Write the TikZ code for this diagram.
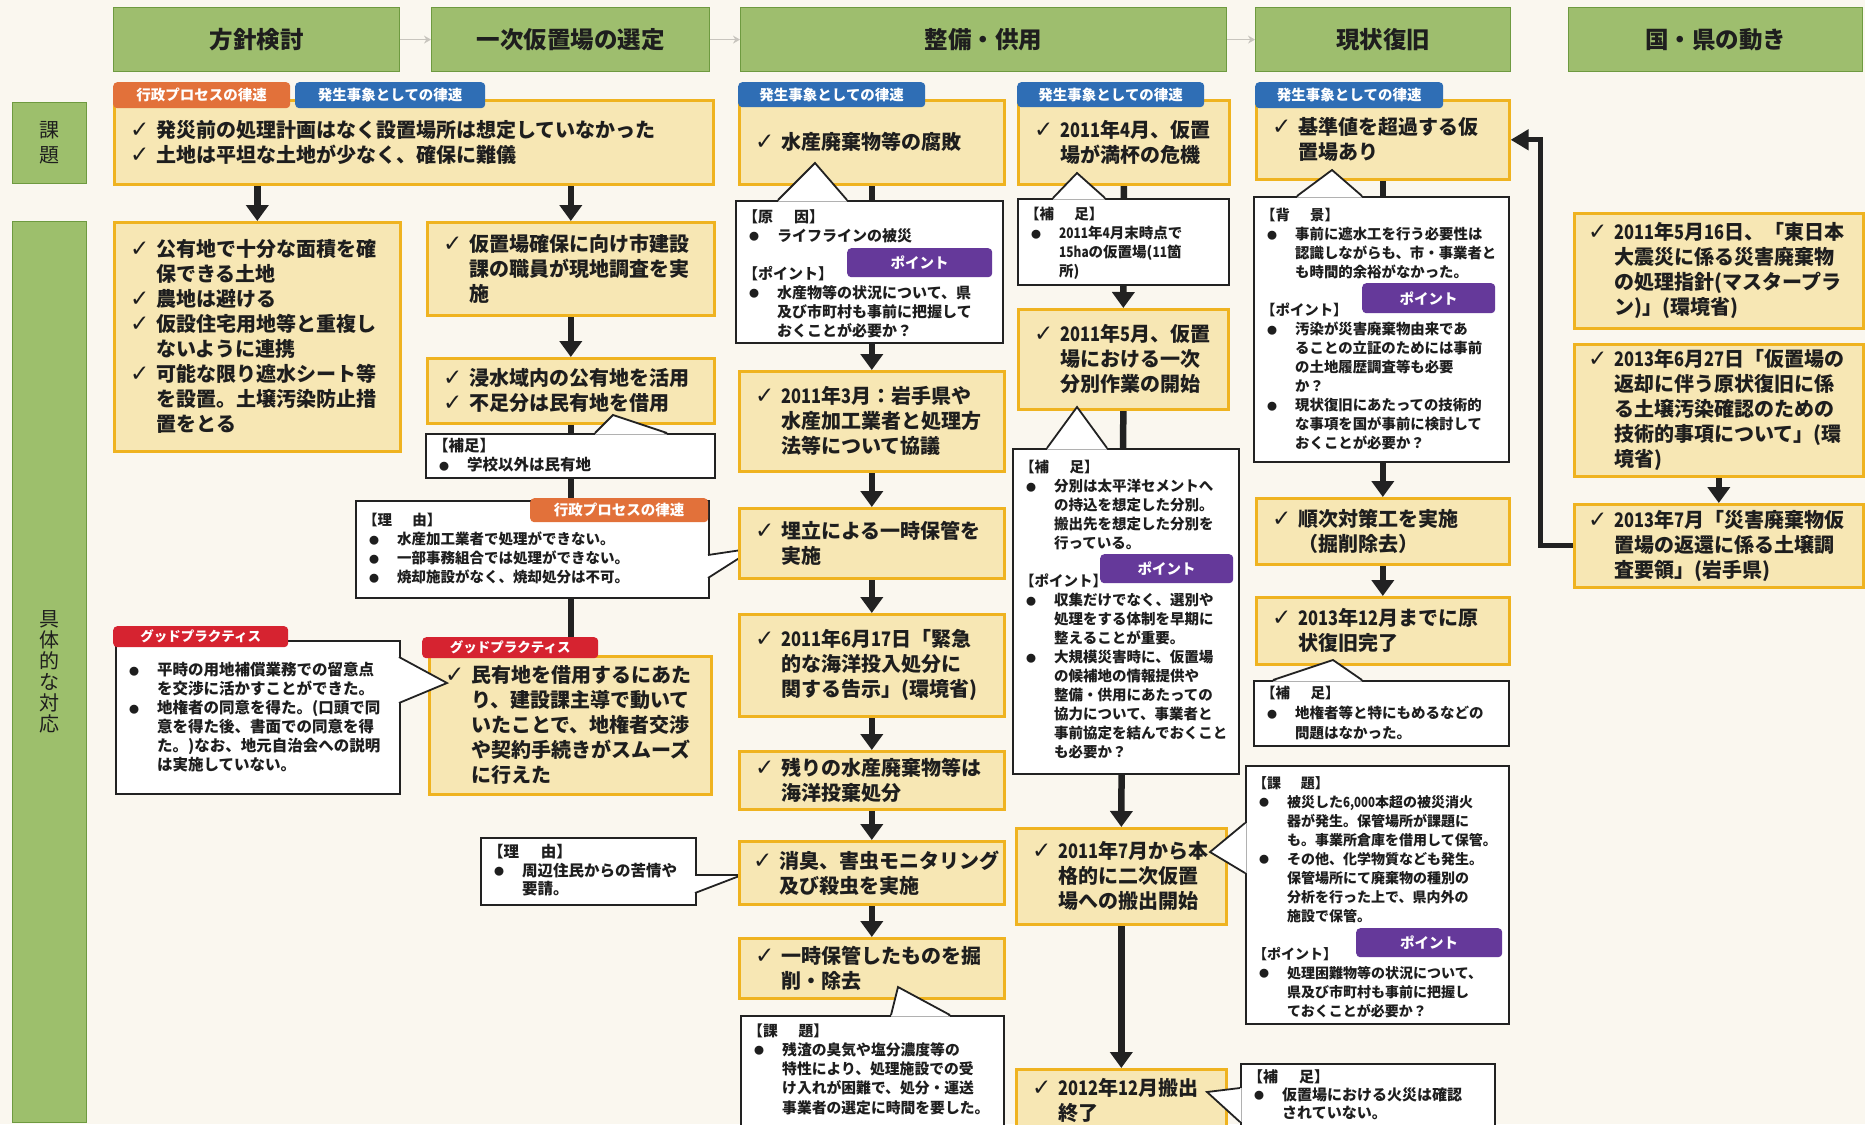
\documentclass[tikz,border=0pt]{standalone}
\usepackage{fontspec}
\setmainfont{Noto Sans CJK JP}
\newfontfamily\symf{DejaVu Sans}
\usetikzlibrary{arrows.meta}
\definecolor{bgc}{HTML}{FAF7EF}
\definecolor{hg}{HTML}{9EBE6E}
\definecolor{hgb}{HTML}{6E9A40}
\definecolor{lg}{HTML}{9DBF6C}
\definecolor{yf}{HTML}{F7E7B4}
\definecolor{yb}{HTML}{EFB320}
\definecolor{tagO}{HTML}{E2713A}
\definecolor{tagB}{HTML}{2F6EB5}
\definecolor{tagP}{HTML}{65399A}
\definecolor{tagR}{HTML}{D62330}
\definecolor{txt}{HTML}{1E1E1E}
\definecolor{cl}{HTML}{222222}
\definecolor{ak}{HTML}{222222}
\definecolor{gr}{HTML}{C8C5BE}
\newcommand\chk{\makebox[26pt][l]{\symf\bfseries\fontsize{23}{23}\selectfont ✓}}
\newcommand\mind{\hspace*{26pt}}
\newcommand\bul{\makebox[22pt][c]{\raisebox{0.6pt}{\fontsize{10}{10}\selectfont ●}}\hspace{12pt}}
\newcommand\cind{\hspace*{34pt}}
\newcommand\tstr{\rule{0pt}{1em}}
\newcommand\Dg[1]{{\addfontfeature{FakeStretch=0.82}#1}}
\newcommand\gp{\hspace{1.4em}}
\pgfdeclarelayer{bgl}
\pgfdeclarelayer{lines}
\pgfsetlayers{bgl,lines,main}
\begin{document}
\begin{tikzpicture}[x=1pt,y=-1pt,
 hdr/.style={anchor=north west, fill=hg, draw=hgb, line width=1.2pt, font=\fontsize{23.5}{26}\selectfont\bfseries, text=txt},
 lab/.style={anchor=north west, fill=lg, draw=hgb, line width=1pt, align=center, text=txt},
 ybx/.style={anchor=north west, fill=yf, draw=yb, line width=2.6pt, inner sep=0},
 ytx/.style={anchor=west, inner sep=0, align=left, text=txt, font=\fontsize{20}{25}\selectfont\bfseries},
 cbx/.style={anchor=north west, fill=white, draw=cl, line width=1.8pt, inner sep=0},
 ctx/.style={anchor=north west, inner sep=0, align=left, text=txt},
 tg/.style={anchor=north west, rounded corners=4pt, text=white, inner sep=0, font=\fontsize{14.5}{15}\selectfont\bfseries},
 tO/.style={tg, fill=tagO}, tB/.style={tg, fill=tagB}, tP/.style={tg, fill=tagP},
 tR/.style={tg, fill=tagR, font=\fontsize{13.5}{14}\selectfont\bfseries},
 arr/.style={draw=ak, line width=6.5pt, -{Triangle[width=22pt,length=16pt]}},
 ln/.style={draw=ak, line width=6.5pt},
 garr/.style={draw=gr, line width=1.5pt, -{Stealth[width=8pt,length=7pt]}},
 ptr/.style={draw=cl, line width=1.8pt, line join=miter}
]
\useasboundingbox (0,0) rectangle (1865,1124);
\begin{pgfonlayer}{bgl}
\fill[bgc] (0,0) rectangle (1865,1124);
\end{pgfonlayer}

% headers
\node[hdr, minimum width=286pt, minimum height=64pt] (h1) at (113,7) {方針検討};
\node[hdr, minimum width=278pt, minimum height=64pt] (h2) at (431,7) {一次仮置場の選定};
\node[hdr, minimum width=486pt, minimum height=64pt] (h3) at (740,7) {整備・供用};
\node[hdr, minimum width=255pt, minimum height=64pt] (h4) at (1255,7) {現状復旧};
\node[hdr, minimum width=294pt, minimum height=64pt] (h5) at (1568,7) {国・県の動き};
\draw[garr] (h1.east) -- (h2.west);
\draw[garr] (h2.east) -- (h3.west);
\draw[garr] (h3.east) -- (h4.west);

% left labels
\node[lab, minimum width=74pt, minimum height=81pt, font=\fontsize{20}{25}\selectfont] (l1) at (12,102) {課\\題};
\node[lab, minimum width=74pt, minimum height=901pt, font=\fontsize{20}{21}\selectfont] (l2) at (12,221) {具\\体\\的\\な\\対\\応};

% ---------- column 1/2 ----------
\node[ybx, minimum width=599pt, minimum height=84pt] (A1) at (113,99) {};
\node[ytx] at ([xshift=17pt]A1.west) {\chk 発災前の処理計画はなく設置場所は想定していなかった\\ \chk 土地は平坦な土地が少なく、確保に難儀};
\node[tO, minimum width=177pt, minimum height=26pt] (tA1) at (113,82) {行政プロセスの律速};
\node[tB, minimum width=190pt, minimum height=26pt] (tA2) at (295,82) {発生事象としての律速};

\node[ybx, minimum width=286pt, minimum height=229pt] (B1) at (113,221) {};
\node[ytx] at ([xshift=17pt]B1.west) {\chk 公有地で十分な面積を確\\ \mind 保できる土地\\ \chk 農地は避ける\\ \chk 仮設住宅用地等と重複し\\ \mind ないように連携\\ \chk 可能な限り遮水シート等\\ \mind を設置。土壌汚染防止措\\ \mind 置をとる};

\node[ybx, minimum width=287pt, minimum height=93pt] (B2) at (426,221) {};
\node[ytx] at ([xshift=17pt]B2.west) {\chk 仮置場確保に向け市建設\\ \mind 課の職員が現地調査を実\\ \mind 施};

\node[ybx, minimum width=287pt, minimum height=65pt] (B3) at (426,357) {};
\node[ytx] at ([xshift=17pt]B3.west) {\chk 浸水域内の公有地を活用\\ \chk 不足分は民有地を借用};

% 補足 (col2)
\node[cbx, minimum width=289pt, minimum height=44pt] (kS1) at (425,433) {};
\fill[white] (595,434.5) -- (613,415) -- (667,434.5) -- cycle;
\draw[ptr] (595,433) -- (613,415) -- (667,433);
\node[ctx, font=\fontsize{15.5}{19}\selectfont\bfseries] at ([shift={(8pt,-3pt)}]kS1.north west) {\tstr【補足】\\ \bul 学校以外は民有地};

% 理由 (col2)
\node[cbx, minimum width=353pt, minimum height=97pt] (kR1) at (355,500) {};
\fill[white] (706.5,555) -- (755,548) -- (706.5,578) -- cycle;
\draw[ptr] (708,555) -- (755,548) -- (708,578);
\node[tO, minimum width=178pt, minimum height=24pt] (tR1) at (530,498) {行政プロセスの律速};
\node[ctx, font=\fontsize{14.5}{19}\selectfont\bfseries] at ([shift={(8pt,-11pt)}]kR1.north west) {\tstr【理\gp 由】\\ \bul 水産加工業者で処理ができない。\\ \bul 一部事務組合では処理ができない。\\ \bul 焼却施設がなく、焼却処分は不可。};

% good practice (col2)
\node[ybx, minimum width=282pt, minimum height=138pt] (B4) at (428,655) {};
\node[ytx] at ([xshift=17pt]B4.west) {\chk 民有地を借用するにあた\\ \mind り、建設課主導で動いて\\ \mind いたことで、地権者交渉\\ \mind や契約手続きがスムーズ\\ \mind に行えた};
\node[tR, minimum width=176pt, minimum height=21pt] (tB4) at (422,637) {グッドプラクティス};

% good practice callout (col1)
\node[cbx, minimum width=284pt, minimum height=153pt] (kGP) at (115,640) {};
\fill[white] (397.5,657) -- (447,683) -- (397.5,703) -- cycle;
\draw[ptr] (399,657) -- (447,683) -- (399,703);
\node[tR, minimum width=175pt, minimum height=21pt] (tGP) at (113,626) {グッドプラクティス};
\node[ctx, font=\fontsize{15.5}{19}\selectfont\bfseries] at ([shift={(8pt,-20pt)}]kGP.north west) {\tstr\bul 平時の用地補償業務での留意点\\ \cind を交渉に活かすことができた。\\ \bul 地権者の同意を得た。(口頭で同\\ \cind 意を得た後、書面での同意を得\\ \cind た。)なお、地元自治会への説明\\ \cind は実施していない。};

% 理由 (col2 bottom)
\node[cbx, minimum width=215pt, minimum height=67pt] (kR2) at (480,837) {};
\fill[white] (693.5,875) -- (742,875) -- (693.5,893) -- cycle;
\draw[ptr] (695,875) -- (742,875) -- (695,893);
\node[ctx, font=\fontsize{15.5}{18.5}\selectfont\bfseries] at ([shift={(8pt,-5pt)}]kR2.north west) {\tstr【理\gp 由】\\ \bul 周辺住民からの苦情や\\ \cind 要請。};

% ---------- column 3 ----------
\node[ybx, minimum width=265pt, minimum height=84pt] (C1) at (738,99) {};
\node[ytx] at ([xshift=17pt]C1.west) {\chk 水産廃棄物等の腐敗};
\node[tB, minimum width=187pt, minimum height=25pt] (tC1) at (738,82) {発生事象としての律速};

\node[cbx, minimum width=267pt, minimum height=142pt] (kG) at (735,200) {};
\fill[white] (778,201.5) -- (815,163) -- (847,201.5) -- cycle;
\draw[ptr] (778,200) -- (815,163) -- (847,200);
\node[tP, minimum width=145pt, minimum height=29pt] (tG) at (847,248) {ポイント};
\node[ctx, font=\fontsize{15}{19}\selectfont\bfseries] at ([shift={(8pt,-7pt)}]kG.north west) {\tstr【原\gp 因】\\ \bul ライフラインの被災\\[19pt] 【ポイント】\\ \bul 水産物等の状況について、県\\ \cind 及び市町村も事前に把握して\\ \cind おくことが必要か？};

\node[ybx, minimum width=265pt, minimum height=100pt] (C2) at (738,370) {};
\node[ytx] at ([xshift=17pt]C2.west) {\chk \Dg{2011}年\Dg{3}月：岩手県や\\ \mind 水産加工業者と処理方\\ \mind 法等について協議};
\node[ybx, minimum width=265pt, minimum height=70pt] (C3) at (738,507) {};
\node[ytx] at ([xshift=17pt]C3.west) {\chk 埋立による一時保管を\\ \mind 実施};
\node[ybx, minimum width=265pt, minimum height=102pt] (C4) at (738,613) {};
\node[ytx] at ([xshift=17pt]C4.west) {\chk \Dg{2011}年\Dg{6}月\Dg{17}日「緊急\\ \mind 的な海洋投入処分に\\ \mind 関する告示」(環境省)};
\node[ybx, minimum width=265pt, minimum height=58pt] (C5) at (738,750) {};
\node[ytx] at ([xshift=17pt]C5.west) {\chk 残りの水産廃棄物等は\\ \mind 海洋投棄処分};
\node[ybx, minimum width=265pt, minimum height=63pt] (C6) at (738,840) {};
\node[ytx] at ([xshift=15pt]C6.west) {\chk 消臭、害虫モニタリング\\ \mind 及び殺虫を実施};
\node[ybx, minimum width=265pt, minimum height=60pt] (C7) at (738,937) {};
\node[ytx] at ([xshift=17pt]C7.west) {\chk 一時保管したものを掘\\ \mind 削・除去};

\node[cbx, minimum width=263pt, minimum height=110pt] (kKC) at (740,1015) {};
\fill[white] (891,1016.5) -- (898,987) -- (950,1016.5) -- cycle;
\draw[ptr] (891,1015) -- (898,987) -- (950,1015);
\node[ctx, font=\fontsize{14.8}{19.3}\selectfont\bfseries] at ([shift={(8pt,-6pt)}]kKC.north west) {\tstr【課\gp 題】\\ \bul 残渣の臭気や塩分濃度等の\\ \cind 特性により、処理施設での受\\ \cind け入れが困難で、処分・運送\\ \cind 事業者の選定に時間を要した。};

% ---------- column 4 ----------
\node[ybx, minimum width=211pt, minimum height=84pt] (D1) at (1017,99) {};
\node[ytx] at ([xshift=17pt]D1.west) {\chk \Dg{2011}年\Dg{4}月、仮置\\ \mind 場が満杯の危機};
\node[tB, minimum width=187pt, minimum height=25pt] (tD1) at (1017,82) {発生事象としての律速};

\node[cbx, minimum width=211pt, minimum height=86pt] (kD1) at (1017,198) {};
\fill[white] (1053,199.5) -- (1077,173) -- (1105,199.5) -- cycle;
\draw[ptr] (1053,198) -- (1077,173) -- (1105,198);
\node[ctx, font=\fontsize{14.5}{19}\selectfont\bfseries] at ([shift={(8pt,-7pt)}]kD1.north west) {\tstr【補\gp 足】\\ \bul \Dg{2011}年\Dg{4}月末時点で\\ \cind \Dg{15ha}の仮置場(\Dg{11}箇\\ \cind 所)};

\node[ybx, minimum width=210pt, minimum height=100pt] (D2) at (1017,308) {};
\node[ytx] at ([xshift=17pt]D2.west) {\chk \Dg{2011}年\Dg{5}月、仮置\\ \mind 場における一次\\ \mind 分別作業の開始};

\node[cbx, minimum width=226pt, minimum height=325pt] (kD2) at (1012,448) {};
\fill[white] (1047,449.5) -- (1077,407) -- (1107,449.5) -- cycle;
\draw[ptr] (1047,448) -- (1077,407) -- (1107,448);
\node[tP, minimum width=133pt, minimum height=29pt] (tD2) at (1100,554) {ポイント};
\node[ctx, font=\fontsize{14.5}{19}\selectfont\bfseries] at ([shift={(8pt,-10pt)}]kD2.north west) {\tstr【補\gp 足】\\ \bul 分別は太平洋セメントへ\\ \cind の持込を想定した分別。\\ \cind 搬出先を想定した分別を\\ \cind 行っている。\\[19pt] 【ポイント】\\ \bul 収集だけでなく、選別や\\ \cind 処理をする体制を早期に\\ \cind 整えることが重要。\\ \bul 大規模災害時に、仮置場\\ \cind の候補地の情報提供や\\ \cind 整備・供用にあたっての\\ \cind 協力について、事業者と\\ \cind 事前協定を結んでおくこと\\ \cind も必要か？};

\node[ybx, minimum width=210pt, minimum height=96pt] (D3) at (1015,827) {};
\node[ytx] at ([xshift=17pt]D3.west) {\chk \Dg{2011}年\Dg{7}月から本\\ \mind 格的に二次仮置\\ \mind 場への搬出開始};

\node[cbx, minimum width=263pt, minimum height=258pt] (kD3) at (1245,765) {};
\fill[white] (1246.5,823) -- (1210,852) -- (1246.5,873) -- cycle;
\draw[ptr] (1245,823) -- (1210,852) -- (1245,873);
\node[tP, minimum width=146pt, minimum height=29pt] (tD3) at (1356,928) {ポイント};
\node[ctx, font=\fontsize{14}{19}\selectfont\bfseries] at ([shift={(8pt,-9pt)}]kD3.north west) {\tstr【課\gp 題】\\ \bul 被災した\Dg{6,000}本超の被災消火\\ \cind 器が発生。保管場所が課題に\\ \cind も。事業所倉庫を借用して保管。\\ \bul その他、化学物質なども発生。\\ \cind 保管場所にて廃棄物の種別の\\ \cind 分析を行った上で、県内外の\\ \cind 施設で保管。\\[19pt] 【ポイント】\\ \bul 処理困難物等の状況について、\\ \cind 県及び市町村も事前に把握し\\ \cind ておくことが必要か？};

\node[ybx, minimum width=210pt, minimum height=62pt] (D4) at (1015,1068) {};
\node[ytx] at ([xshift=17pt]D4.west) {\chk \Dg{2012}年\Dg{12}月搬出\\ \mind 終了};

\node[cbx, minimum width=254pt, minimum height=75pt] (kD4) at (1240,1063) {};
\fill[white] (1241.5,1088) -- (1207,1092) -- (1241.5,1122) -- cycle;
\draw[ptr] (1240,1088) -- (1207,1092) -- (1240,1122);
\node[ctx, font=\fontsize{15}{18}\selectfont\bfseries] at ([shift={(8pt,-4pt)}]kD4.north west) {\tstr【補\gp 足】\\ \bul 仮置場における火災は確認\\ \cind されていない。};

% ---------- column 5 ----------
\node[ybx, minimum width=253pt, minimum height=79pt] (E1) at (1255,99) {};
\node[ytx] at ([xshift=17pt]E1.west) {\chk 基準値を超過する仮\\ \mind 置場あり};
\node[tB, minimum width=188pt, minimum height=26pt] (tE1) at (1255,82) {発生事象としての律速};

\node[cbx, minimum width=255pt, minimum height=265pt] (kE1) at (1253,196) {};
\fill[white] (1297,197.5) -- (1332,170) -- (1362,197.5) -- cycle;
\draw[ptr] (1297,196) -- (1332,170) -- (1362,196);
\node[tP, minimum width=133pt, minimum height=30pt] (tE1p) at (1362,283) {ポイント};
\node[ctx, font=\fontsize{14.4}{19}\selectfont\bfseries] at ([shift={(8pt,-10pt)}]kE1.north west) {\tstr【背\gp 景】\\ \bul 事前に遮水工を行う必要性は\\ \cind 認識しながらも、市・事業者と\\ \cind も時間的余裕がなかった。\\[19pt] 【ポイント】\\ \bul 汚染が災害廃棄物由来であ\\ \cind ることの立証のためには事前\\ \cind の土地履歴調査等も必要\\ \cind か？\\ \bul 現状復旧にあたっての技術的\\ \cind な事項を国が事前に検討して\\ \cind おくことが必要か？};

\node[ybx, minimum width=253pt, minimum height=66pt] (E2) at (1255,497) {};
\node[ytx] at ([xshift=17pt]E2.west) {\chk 順次対策工を実施\\ \mind （掘削除去）};
\node[ybx, minimum width=253pt, minimum height=67pt] (E3) at (1255,596) {};
\node[ytx] at ([xshift=17pt]E3.west) {\chk \Dg{2013}年\Dg{12}月までに原\\ \mind 状復旧完了};

\node[cbx, minimum width=255pt, minimum height=65pt] (kE3) at (1253,680) {};
\fill[white] (1273,681.5) -- (1333,660) -- (1362,681.5) -- cycle;
\draw[ptr] (1273,680) -- (1333,660) -- (1362,680);
\node[ctx, font=\fontsize{14.5}{20}\selectfont\bfseries] at ([shift={(8pt,-4pt)}]kE3.north west) {\tstr【補\gp 足】\\ \bul 地権者等と特にもめるなどの\\ \cind 問題はなかった。};

% ---------- column 6 ----------
\node[ybx, minimum width=289pt, minimum height=115pt] (F1) at (1573,212) {};
\node[ytx] at ([xshift=15pt]F1.west) {\chk \Dg{2011}年\Dg{5}月\Dg{16}日、「東日本\\ \mind 大震災に係る災害廃棄物\\ \mind の処理指針(マスタープラ\\ \mind ン)」(環境省)};
\node[ybx, minimum width=289pt, minimum height=132pt] (F2) at (1573,343) {};
\node[ytx] at ([xshift=15pt]F2.west) {\chk \Dg{2013}年\Dg{6}月\Dg{27}日「仮置場の\\ \mind 返却に伴う原状復旧に係\\ \mind る土壌汚染確認のための\\ \mind 技術的事項について」(環\\ \mind 境省)};
\node[ybx, minimum width=289pt, minimum height=83pt] (F3) at (1573,503) {};
\node[ytx] at ([xshift=15pt]F3.west) {\chk \Dg{2013}年\Dg{7}月「災害廃棄物仮\\ \mind 置場の返還に係る土壌調\\ \mind 査要領」(岩手県)};

% ---------- connectors ----------
\coordinate (fb) at (1540,0);
\begin{pgfonlayer}{lines}
\draw[arr] (B1.north |- A1.south) -- (B1.north);
\draw[arr] (B2.north |- A1.south) -- (B2.north);
\draw[arr] (B2.south) -- (B3.north);
\draw[ln] (B3.south) -- (B3.south |- tB4.north);
\draw[arr] (C1.south) -- (C2.north);
\draw[arr] (C2.south) -- (C3.north);
\draw[arr] (C3.south) -- (C4.north);
\draw[arr] (C4.south) -- (C5.north);
\draw[arr] (C5.south) -- (C6.north);
\draw[arr] (C6.south) -- (C7.north);
\draw[arr] (D1.south) -- (D2.north);
\draw[arr] (D2.south) -- (D3.north);
\draw[arr] (D3.south) -- (D4.north);
\draw[arr] (E1.south) -- (E2.north);
\draw[arr] (E2.south) -- (E3.north);
\draw[arr] (F2.south) -- (F3.north);
\draw[draw=ak, line width=5pt, line join=miter, -{Triangle[width=20pt,length=18pt]}] (F3.west) -- (fb |- F3.west) -- (fb |- E1.east) -- (E1.east);
\end{pgfonlayer}
\end{tikzpicture}
\end{document}
